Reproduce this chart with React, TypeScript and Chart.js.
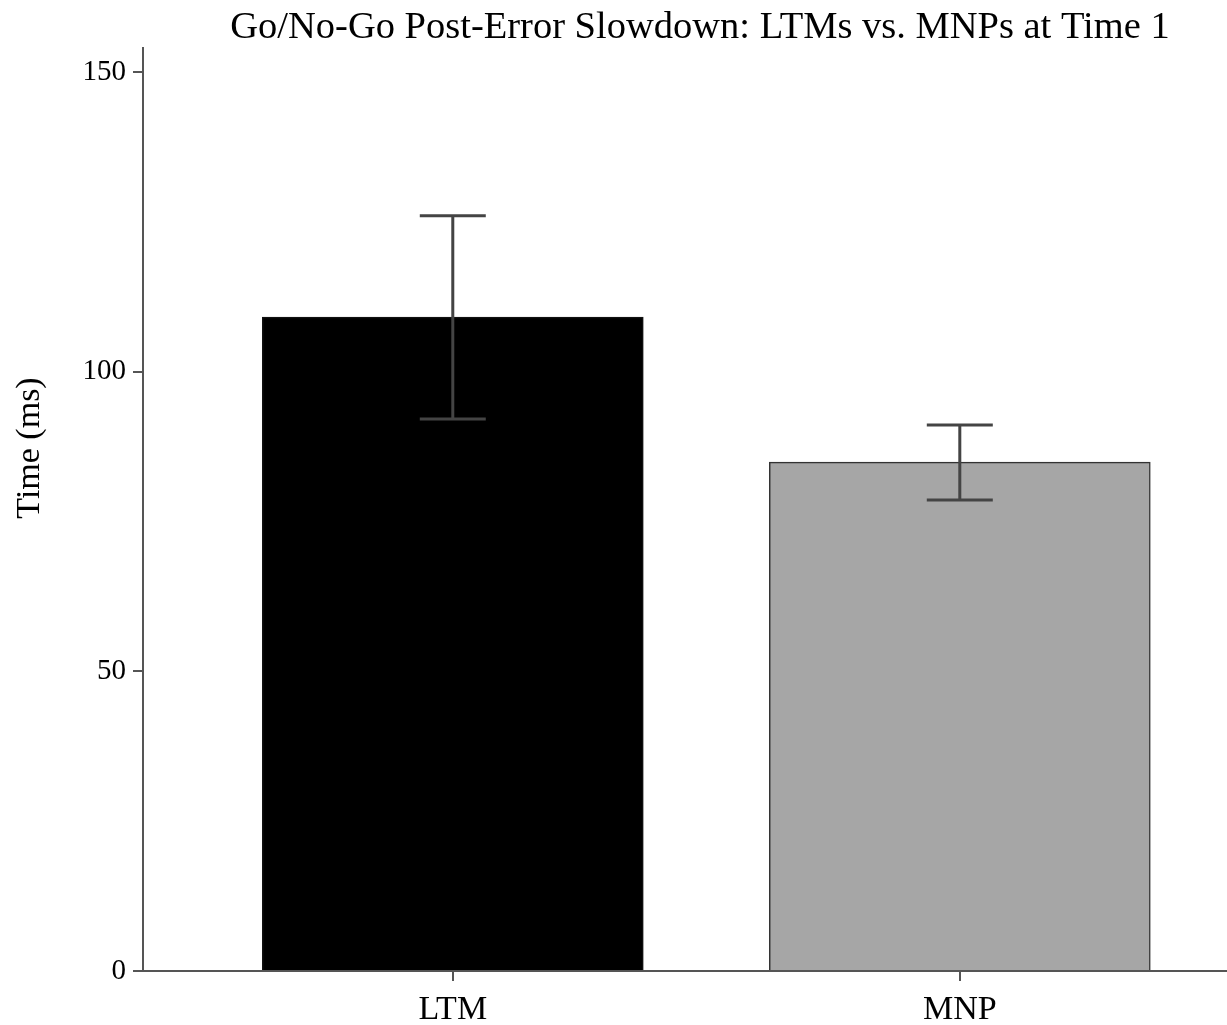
import React, { useEffect, useRef } from "react";
import { Chart, registerables } from "chart.js";

Chart.register(...registerables);

const categories = ["LTM", "MNP"];
const means = [109.1, 84.9];
const errLow = [92.1, 78.6];
const errHigh = [126.0, 91.1];
const yTicks = [0, 50, 100, 150];
const titleText = "Go/No-Go Post-Error Slowdown: LTMs vs. MNPs at Time 1";
const yTitle = "Time (ms)";

const FONT = "'Liberation Serif', 'DejaVu Serif', serif";

export default function App() {
  const ref = useRef<HTMLCanvasElement | null>(null);
  useEffect(() => {
    if (!ref.current) return;
    const errorBars = {
      id: "errorBars",
      afterDatasetsDraw(chart: any) {
        const { ctx, scales } = chart;
        const xs = scales.x;
        const ys = scales.y;
        ctx.save();
        ctx.strokeStyle = "#444";
        ctx.lineWidth = 3;
        ctx.lineCap = "butt";
        for (let i = 0; i < categories.length; i++) {
          const x = xs.getPixelForValue(i);
          const yl = ys.getPixelForValue(errLow[i]);
          const yh = ys.getPixelForValue(errHigh[i]);
          const cap = 33;
          ctx.beginPath();
          ctx.moveTo(x, yl);
          ctx.lineTo(x, yh);
          ctx.moveTo(x - cap, yh);
          ctx.lineTo(x + cap, yh);
          ctx.moveTo(x - cap, yl);
          ctx.lineTo(x + cap, yl);
          ctx.stroke();
        }
        ctx.restore();
      },
      afterDraw(chart: any) {
        const { ctx } = chart;
        ctx.save();
        ctx.fillStyle = "#000";
        ctx.font = `38.5px ${FONT}`;
        ctx.textAlign = "center";
        ctx.textBaseline = "middle";
        ctx.fillText(titleText, 700, 28);
        ctx.font = `34px ${FONT}`;
        ctx.translate(30, 448);
        ctx.rotate(-Math.PI / 2);
        ctx.fillText(yTitle, 0, 0);
        ctx.restore();
      },
    };
    const chart = new Chart(ref.current, {
      type: "bar",
      data: {
        datasets: [
          {
            data: categories.map((c, i) => ({ x: i, y: means[i] })),
            backgroundColor: ["#000000", "#a6a6a6"],
            borderColor: ["#111111", "#333333"],
            borderWidth: 1.5,
            barThickness: 381,
          },
        ],
      },
      options: {
        animation: false,
        responsive: false,
        maintainAspectRatio: false,
        layout: { padding: { top: 48, left: 0, right: 0, bottom: 0 } },
        plugins: {
          legend: { display: false },
          title: { display: false },
          tooltip: { enabled: false },
        },
        scales: {
          x: {
            type: "linear",
            min: -0.611,
            max: 1.527,
            offset: false,
            afterBuildTicks: (s: any) => {
              s.ticks = categories.map((c, i) => ({ value: i }));
            },
            afterFit: (s: any) => {
              s.height = 54;
            },
            ticks: {
              callback: (v: any) => categories[v as number] ?? "",
              color: "#000",
              font: { family: FONT, size: 34 },
              padding: 9,
              maxRotation: 0,
              autoSkip: false,
            },
            grid: {
              display: true,
              offset: false,
              drawOnChartArea: false,
              drawTicks: true,
              tickLength: 10,
              color: "#555",
              lineWidth: 2,
            },
            border: { display: true, color: "#555", width: 2 },
          },
          y: {
            min: 0,
            max: 154,
            afterBuildTicks: (s: any) => {
              s.ticks = yTicks.map((v) => ({ value: v }));
            },
            afterFit: (s: any) => {
              s.width = 143;
            },
            ticks: {
              color: "#000",
              font: { family: FONT, size: 29 },
              padding: 7,
            },
            grid: {
              display: true,
              drawOnChartArea: false,
              drawTicks: true,
              tickLength: 10,
              color: "#555",
              lineWidth: 2,
            },
            border: { display: true, color: "#555", width: 2 },
          },
        },
      },
      plugins: [errorBars],
    });
    return () => chart.destroy();
  }, []);
  return (
    <div style={{ position: "fixed", left: 0, top: 0, width: 1227, height: 1025, background: "#fff" }}>
      <canvas ref={ref} width={1227} height={1025} style={{ width: 1227, height: 1025 }} />
    </div>
  );
}
